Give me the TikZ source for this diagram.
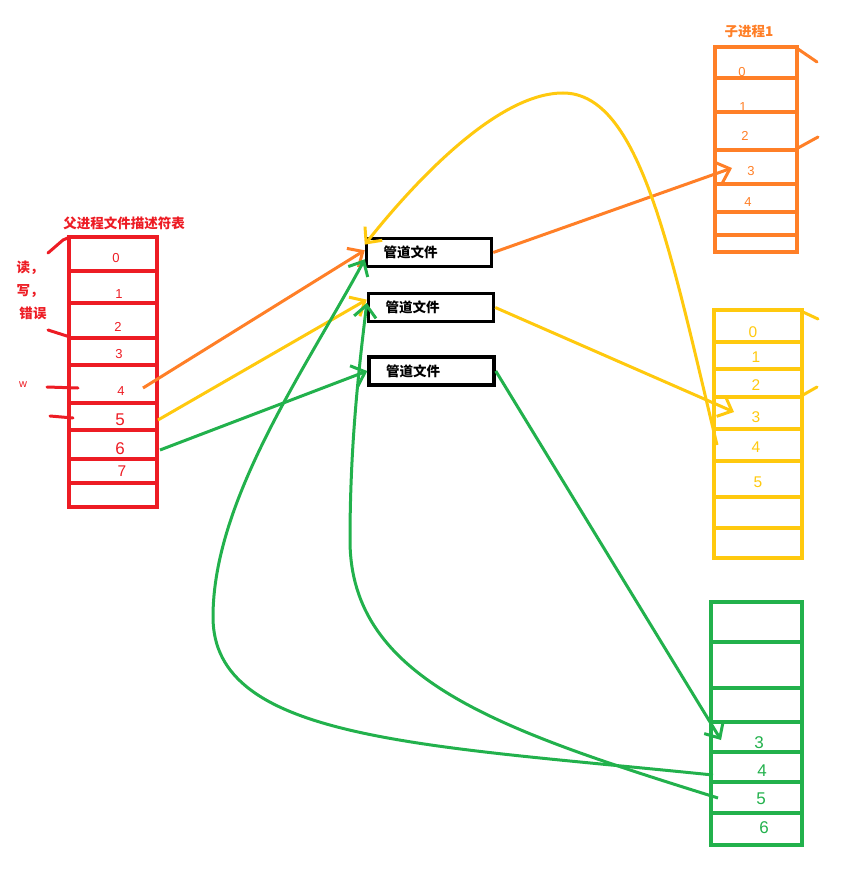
\documentclass[tikz,border=0pt]{standalone}
\usepackage{fontspec}
\setmainfont{Liberation Sans}
\newfontfamily\cjk{Noto Sans CJK SC}
\usetikzlibrary{arrows.meta}

\definecolor{pred}{RGB}{237,28,36}
\definecolor{porange}{RGB}{255,127,39}
\definecolor{pyellow}{RGB}{255,201,14}
\definecolor{pgreen}{RGB}{34,177,76}

\begin{document}
\begin{tikzpicture}[
    x=1pt, y=-1pt,
    >={Straight Barb[length=12pt, width=22pt]}, % hand drawn arrow heads
    % Styles
    fdtable/.style={ % Descriptor table frame
        line width=3.5pt
    },
    fd/.style={ % Descriptor number
        inner sep=1pt,
        font=\fontsize{13}{13}\selectfont
    },
    fdbig/.style={ % Larger descriptor number
        inner sep=1pt,
        font=\fontsize{17}{17}\selectfont
    },
    fdmid/.style={ % Middle sized descriptor number
        inner sep=1pt,
        font=\fontsize{15.5}{15.5}\selectfont
    },
    title/.style={ % Chinese labels
        inner sep=1pt,
        font=\cjk\bfseries\fontsize{13.5}{13.5}\selectfont
    },
    pipe/.style={ % Pipe file
        title,
        rectangle,
        draw,
        line width=3.5pt,
        minimum width=125pt,
        minimum height=28pt,
        inner xsep=17pt,
        text width=91pt,
        align=left
    },
    arrow/.style={
        ->,
        line width=3pt
    },
    scribble/.style={ % Side strokes
        line width=3pt,
        line cap=round
    }
]
    \useasboundingbox (0,0) rectangle (847,869);

    % Parent descriptor table
    \node [title, pred] (ptitle) at (124,223) {父进程文件描述符表};
    \draw [fdtable, pred] (69,237) rectangle (157,507);
    \foreach \y in {271,303,338,365,403,430,459,483}
        \draw [fdtable, pred] (69,\y) -- (157,\y);
    \node [fd, pred] (pf0) at (116,258) {0};
    \node [fd, pred] (pf1) at (119,294) {1};
    \node [fd, pred] (pf2) at (118,327) {2};
    \node [fd, pred] (pf3) at (119,354) {3};
    \node [fd, pred] (pf4) at (121,391) {4};
    \node [fdbig, pred] (pf5) at (120,420) {5};
    \node [fdbig, pred] (pf6) at (120,449) {6};
    \node [fdmid, pred] (pf7) at (122,471) {7};

    % Notes on the left
    \node [title, pred] (rd) at (30,268) {读，};
    \node [title, pred] (wr) at (30,291) {写，};
    \node [title, pred] (er) at (33,313) {错误};
    \node [fd, pred, font=\fontsize{11}{11}\selectfont] (wn) at (23,385) {w};
    \draw [scribble, pred] (48,253) -- (63,240) -- (70,237);
    \draw [scribble, pred] (48,330) -- (70,337);
    \draw [scribble, pred] (47,387) -- (78,388);
    \draw [scribble, pred] (50,416) -- (73,418);

    % Pipe files
    \node [pipe] (pipeA) at (429,252.5) {管道文件};
    \node [pipe] (pipeB) at (431,307.5) {管道文件};
    \node [pipe] (pipeC) at (431.5,371) {管道文件};

    % Child process 1 table
    \node [title, porange] (ctitle) at (749,31) {子进程1};
    \draw [fdtable, porange] (715,47) rectangle (797,252);
    \foreach \y in {78,112,150,184,212,235}
        \draw [fdtable, porange] (715,\y) -- (797,\y);
    \node [fd, porange] (ca0) at (742,72) {0};
    \node [fd, porange] (ca1) at (743,107) {1};
    \node [fd, porange] (ca2) at (745,136) {2};
    \node [fd, porange] (ca3) at (751,171) {3};
    \node [fd, porange] (ca4) at (748,202) {4};
    \draw [scribble, porange] (798,49) -- (817,62);
    \draw [scribble, porange] (798,148) -- (818,137);

    % Second child table
    \draw [fdtable, pyellow] (714,310) rectangle (802,558);
    \foreach \y in {342,369,397,429,461,497,528}
        \draw [fdtable, pyellow] (714,\y) -- (802,\y);
    \node [fdmid, pyellow] (cb0) at (753,332) {0};
    \node [fdmid, pyellow] (cb1) at (756,357) {1};
    \node [fdmid, pyellow] (cb2) at (756,385) {2};
    \node [fdmid, pyellow] (cb3) at (756,417) {3};
    \node [fdmid, pyellow] (cb4) at (756,447) {4};
    \node [fdmid, pyellow] (cb5) at (758,482) {5};
    \draw [scribble, pyellow] (803,312) -- (818,319);
    \draw [scribble, pyellow] (803,395) -- (817,387);

    % Third child table
    \draw [fdtable, pgreen] (711,602) rectangle (802,845);
    \foreach \y in {642,688,722,752,782,813}
        \draw [fdtable, pgreen] (711,\y) -- (802,\y);
    \node [fdbig, pgreen] (cc3) at (759,743) {3};
    \node [fdbig, pgreen] (cc4) at (762,771) {4};
    \node [fdbig, pgreen] (cc5) at (761,799) {5};
    \node [fdbig, pgreen] (cc6) at (764,828) {6};

    % Free ends of the arrows
    \coordinate (pf4out) at (143,388);
    \coordinate (pf5out) at (158,420);
    \coordinate (pf6out) at (160,450);
    \coordinate (ca3in) at (732,168);
    \coordinate (cb3in) at (734,412);
    \coordinate (cb4out) at (717,445);
    \coordinate (cc3in) at (721,740);
    \coordinate (cc4out) at (713,775);
    \coordinate (cc5out) at (718,798);

    % Parent to pipes
    \draw [arrow, porange] (pf4out) -- (pipeA.178);
    \draw [arrow, pyellow] (pf5out) -- (pipeB.173);
    \draw [arrow, pgreen] (pf6out) -- (pipeC.west);

    % Pipes to children
    \draw [arrow, porange] (pipeA.east) -- (ca3in);
    \draw [arrow, pyellow] (pipeB.east) -- (cb3in);
    \draw [arrow, pgreen] (pipeC.east) -- (cc3in);

    % Children back to pipes
    \draw [arrow, pyellow] (cb4out) .. controls (670,250) and (640,93) .. (563,93)
        .. controls (500,93) and (420,175) .. (pipeA.173);
    \draw [arrow, pgreen] (cc4out) .. controls (420,745) and (213,740) .. (213,617)
        .. controls (213,500) and (305,370) .. (pipeA.186);
    \draw [arrow, pgreen] (cc5out) .. controls (500,730) and (350,680) .. (350,540)
        .. controls (350,440) and (360,360) .. (pipeB.176);
\end{tikzpicture}
\end{document}
